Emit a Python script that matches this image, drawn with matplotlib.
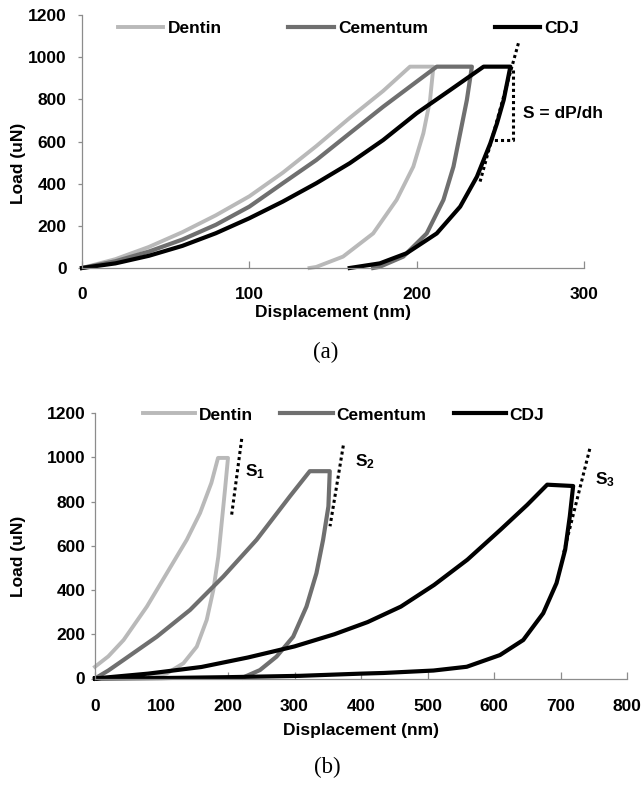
import matplotlib
matplotlib.use('Agg')
import matplotlib.pyplot as plt

plt.rcParams['font.family'] = ['Liberation Sans', 'DejaVu Sans']
plt.rcParams['font.weight'] = 'bold'
plt.rcParams['mathtext.fontset'] = 'custom'
plt.rcParams['mathtext.bf'] = 'Liberation Sans:bold'
plt.rcParams['mathtext.rm'] = 'Liberation Sans:bold'

# ---------------- data (panel a) ----------------
series_names = ['Dentin', 'Cementum', 'CDJ']
series_colors = ['#b9b9b9', '#6f6f6f', '#000000']

a_dentin_load_x = [0, 20, 40, 60, 80, 100, 120, 140, 160, 180, 196]
a_dentin_load_y = [0, 42, 100, 170, 250, 340, 452, 578, 712, 840, 955]
a_dentin_unload_x = [210, 208, 204, 198, 188, 174, 156, 140, 136]
a_dentin_unload_y = [955, 797, 639, 481, 323, 164, 54, 5, 0]

a_cem_load_x = [0, 20, 40, 60, 80, 100, 120, 140, 160, 180, 200, 212]
a_cem_load_y = [0, 32, 78, 135, 205, 291, 402, 512, 639, 765, 884, 955]
a_cem_unload_x = [233, 230, 226, 222, 216, 206, 192, 178, 174]
a_cem_unload_y = [955, 797, 639, 481, 323, 164, 54, 6, 0]

a_cdj_load_x = [0, 20, 40, 60, 80, 100, 120, 140, 160, 180, 200, 220, 240]
a_cdj_load_y = [0, 22, 58, 105, 165, 236, 315, 402, 497, 607, 734, 844, 955]
a_cdj_unload_x = [256, 252, 248, 244, 236, 226, 212, 194, 178, 160]
a_cdj_unload_y = [955, 797, 686, 591, 433, 291, 164, 70, 22, 0]

a_tangent_x = [260.8, 237.9]
a_tangent_y = [1066, 410]
a_triangle_x = [257.5, 257.5, 243.8]
a_triangle_y = [940, 607, 607]
a_slope_label = 'S = dP/dh'
a_slope_label_pos = (263.5, 734)

# ---------------- data (panel b) ----------------
b_dentin_load_x = [0, 20, 43, 78, 108, 138, 158, 175, 185]
b_dentin_load_y = [53, 100, 174, 325, 476, 627, 748, 884, 997]
b_dentin_unload_x = [200, 195.5, 190.5, 185.5, 178, 168, 153, 133, 108, 83]
b_dentin_unload_y = [997, 854, 703, 552, 401, 265, 144, 69, 23, 8]

b_cem_load_x = [0, 20, 43, 93, 143, 193, 243, 293, 323]
b_cem_load_y = [0, 36, 84, 189, 310, 461, 627, 823, 937]
b_cem_unload_x = [353, 351, 343, 333, 318, 298, 273, 248, 223]
b_cem_unload_y = [937, 778, 627, 476, 325, 189, 99, 38, 5]

b_cdj_load_x = [0, 80, 160, 230, 300, 360, 410, 460, 510, 560, 610, 650, 680]
b_cdj_load_y = [0, 22, 52, 95, 145, 200, 255, 325, 423, 537, 673, 785, 876]
b_cdj_unload_x = [719, 714, 707, 694, 674, 644, 609, 559, 509, 434, 400, 308, 200, 100, 0]
b_cdj_unload_y = [870, 733, 582, 431, 295, 174, 106, 53, 36, 25, 22, 12, 6, 2, 0]

b_tangents_x = [[220.6, 205.5], [373.4, 353.4], [744, 704]]
b_tangents_y = [[1083, 740], [1053, 688], [1038, 559]]
b_slope_labels = [r'$\mathbf{S_1}$', r'$\mathbf{S_2}$', r'$\mathbf{S_3}$']
b_slope_label_pos = [(225.6, 937), (391, 982), (752, 899)]

y_ticks = [0, 200, 400, 600, 800, 1000, 1200]
a_x_ticks = [0, 100, 200, 300]
b_x_ticks = [0, 100, 200, 300, 400, 500, 600, 700, 800]

FS = 12.5
spine_col = '#8c8c8c'
dot_style = dict(color='black', lw=2.2, ls=(0, (1, 1)), clip_on=False)

fig = plt.figure(figsize=(6.42, 7.89), dpi=100)
axA = fig.add_axes([82/642, 1-268/789, 502/642, 253/789])
axB = fig.add_axes([95/642, 1-678.5/789, 532/642, 265.5/789])


def style(ax, xticks, xlim, ypad, xpad):
    for s in ['top', 'right']:
        ax.spines[s].set_visible(False)
    for s in ['left', 'bottom']:
        ax.spines[s].set_color(spine_col)
        ax.spines[s].set_linewidth(0.9)
    ax.set_xlim(*xlim)
    ax.set_ylim(0, 1200)
    ax.set_xticks(xticks)
    ax.set_yticks(y_ticks)
    ax.tick_params(axis='x', direction='in', length=5, width=0.9, color=spine_col,
                   labelsize=FS, pad=xpad)
    ax.tick_params(axis='y', direction='out', length=3, width=0.9, color=spine_col,
                   labelsize=FS, pad=ypad)
    for lab in ax.get_xticklabels() + ax.get_yticklabels():
        lab.set_fontweight('bold')


lw_list = [2.8, 3.0, 3.0]

# panel a
curvesA = [
    (a_dentin_load_x + a_dentin_unload_x, a_dentin_load_y + a_dentin_unload_y),
    (a_cem_load_x + a_cem_unload_x, a_cem_load_y + a_cem_unload_y),
    (a_cdj_load_x + a_cdj_unload_x, a_cdj_load_y + a_cdj_unload_y),
]
for (x, y), name, col, lw in zip(curvesA, series_names, series_colors, lw_list):
    axA.plot(x, y, color=col, lw=lw, label=name, clip_on=False)
axA.plot(a_tangent_x, a_tangent_y, **dot_style)
axA.plot(a_triangle_x, a_triangle_y, **dot_style)
axA.text(a_slope_label_pos[0], a_slope_label_pos[1], a_slope_label, fontsize=FS,
         fontweight='bold', ha='left', va='center')
style(axA, a_x_ticks, (0, 300), 8, 13.5)
axA.legend(loc='center left', bbox_to_anchor=(0.0717, 0.9486), ncol=3, frameon=False,
           handlelength=2.6, handletextpad=0.25, columnspacing=3.85,
           borderpad=0, borderaxespad=0, prop={'weight': 'bold', 'size': FS})
axA.set_xlabel('Displacement (nm)', fontsize=FS, fontweight='bold')
axA.xaxis.label.set_va('center')
axA.xaxis.set_label_coords(0.5, -(313-268)/253)
axA.set_ylabel('Load (uN)', fontsize=FS, fontweight='bold')
axA.yaxis.label.set_va('center')
axA.yaxis.set_label_coords(-(82-19)/502, (268-163)/253)

# panel b
curvesB = [
    (b_dentin_load_x + b_dentin_unload_x, b_dentin_load_y + b_dentin_unload_y),
    (b_cem_load_x + b_cem_unload_x, b_cem_load_y + b_cem_unload_y),
    (b_cdj_load_x + b_cdj_unload_x, b_cdj_load_y + b_cdj_unload_y),
]
for (x, y), name, col, lw in zip(curvesB, series_names, series_colors, lw_list):
    axB.plot(x, y, color=col, lw=lw, label=name, clip_on=False)
for tx, ty in zip(b_tangents_x, b_tangents_y):
    axB.plot(tx, ty, **dot_style)
for lab, (px, py) in zip(b_slope_labels, b_slope_label_pos):
    axB.text(px, py, lab, fontsize=FS, ha='left', va='center')
style(axB, b_x_ticks, (0, 800), 4, 14.5)
axB.legend(loc='center left', bbox_to_anchor=(0.0902, 0.9925), ncol=3, frameon=False,
           handlelength=3.0, handletextpad=0.2, columnspacing=1.6,
           borderpad=0, borderaxespad=0, prop={'weight': 'bold', 'size': FS})
axB.set_xlabel('Displacement (nm)', fontsize=FS, fontweight='bold')
axB.xaxis.label.set_va('center')
axB.xaxis.set_label_coords(0.5, -(730-678.5)/265.5)
axB.set_ylabel('Load (uN)', fontsize=FS, fontweight='bold')
axB.yaxis.label.set_va('center')
axB.yaxis.set_label_coords(-(95-19)/532, (678.5-556)/265.5)

fig.text(326/642, 1-352/789, '(a)', family='Liberation Serif', fontweight='normal',
         fontsize=16.5, ha='center', va='center')
fig.text(327/642, 1-767/789, '(b)', family='Liberation Serif', fontweight='normal',
         fontsize=16.5, ha='center', va='center')

fig.savefig('out.png', dpi=100)
